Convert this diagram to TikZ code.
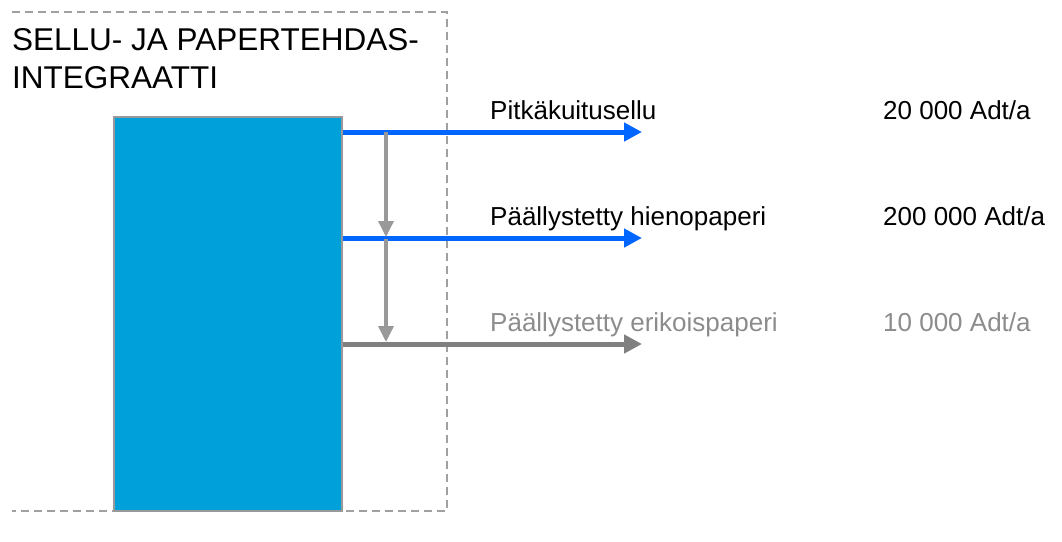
\documentclass[tikz,border=0pt]{standalone}
\usepackage{fontspec}
\setmainfont{Liberation Sans}
\usetikzlibrary{arrows.meta}
\definecolor{boxblue}{RGB}{0,160,218}
\definecolor{flowblue}{RGB}{0,102,255}
\definecolor{flowgray}{RGB}{128,128,128}
\definecolor{lightgray}{RGB}{153,153,153}
\definecolor{framegray}{RGB}{160,160,160}
\definecolor{textgray}{RGB}{140,140,140}
\tikzset{
  flowarrow/.style={line width=5pt, -{Triangle[length=18pt,width=18pt]}},
  vertarrow/.style={line width=3.5pt, draw=lightgray, -{Triangle[length=16pt,width=15pt]}},
  lbl/.style={anchor=base west, inner sep=0pt, font=\fontsize{26}{30}\selectfont},
}
\begin{document}
\begin{tikzpicture}[x=1pt,y=-1pt]
\useasboundingbox (0,0) rectangle (1062,541);
% frame (top, right, bottom)
\draw[framegray, line width=1.5pt, dash pattern=on 8pt off 5pt] (12,12) -- (447,12) -- (447,511) -- (12,511);
% title
\node[anchor=base west, inner sep=0pt, align=left, font=\fontsize{31.5}{38}\selectfont] (title) at (12,88) {SELLU- JA PAPERTEHDAS-\\INTEGRAATTI};
% mill box
\node[draw=lightgray, line width=1.5pt, fill=boxblue, minimum width=228pt, minimum height=394pt, inner sep=0pt, anchor=north west] (mill) at (113,116) {};
% endpoints
\coordinate (e1) at (642,132);
\coordinate (e2) at (642,238);
\coordinate (e3) at (642,344);
\draw[flowarrow, flowblue] (mill.east |- e1) -- (e1);
\draw[flowarrow, flowblue] (mill.east |- e2) -- (e2);
\draw[flowarrow, flowgray] (mill.east |- e3) -- (e3);
% vertical arrows
\coordinate (v1) at (386,132);
\coordinate (v2) at (386,237);
\coordinate (v3) at (386,239);
\coordinate (v4) at (386,342);
\draw[vertarrow] (v1) -- (v2);
\draw[vertarrow] (v3) -- (v4);
% labels
\node[lbl] (p1) at (490,119) {Pitkäkuitusellu};
\node[lbl] (p2) at (490,225) {Päällystetty hienopaperi};
\node[lbl, text=textgray] (p3) at (490,331) {Päällystetty erikoispaperi};
\node[lbl] (q1) at (883,119) {20 000 Adt/a};
\node[lbl] (q2) at (883,225) {200 000 Adt/a};
\node[lbl, text=textgray] (q3) at (883,331) {10 000 Adt/a};
\end{tikzpicture}
\end{document}
